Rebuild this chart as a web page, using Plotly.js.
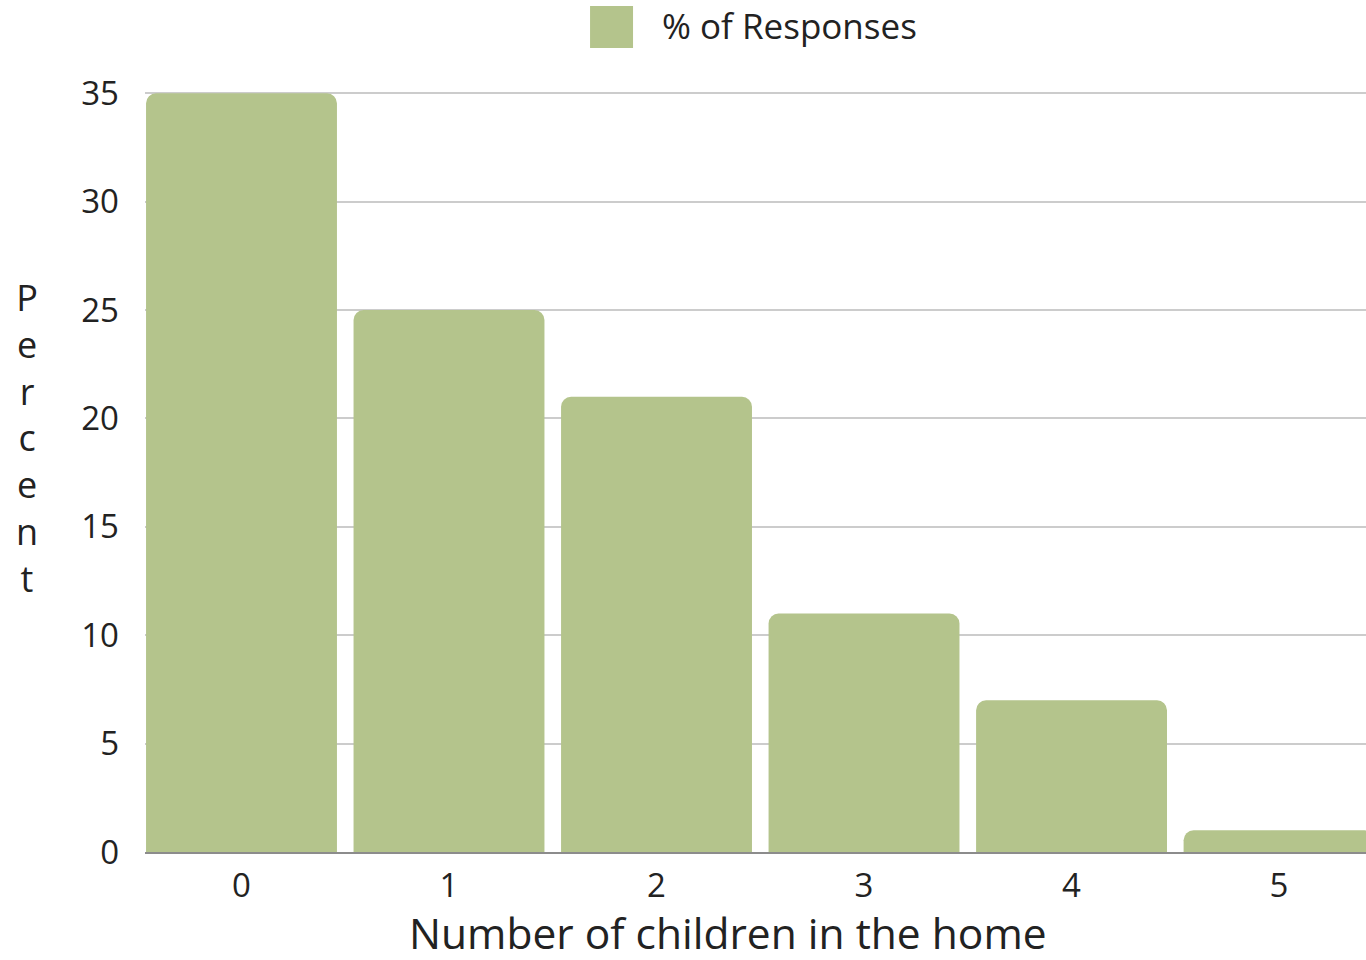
<!DOCTYPE html>
<html>
<head>
<meta charset="utf-8">
<script src="https://cdn.plot.ly/plotly-3.0.1.min.js"></script>
<style>html,body{margin:0;padding:0;background:#fff;}#chart{width:1366px;height:960px;}</style>
</head>
<body>
<div id="chart"></div>
<script>
const categories = ["0", "1", "2", "3", "4", "5"];
const percentValues = [35, 25, 21, 11, 7, 1];
const seriesName = "% of Responses";
const xTitle = "Number of children in the home";
const yTitle = "Percent";
const yTickValues = [0, 5, 10, 15, 20, 25, 30, 35];

const barColor = "#b4c48c";
const fontFamily = "'Open Sans', 'Noto Sans', sans-serif";

const trace = {
  type: "bar",
  x: categories.map(Number),
  y: percentValues,
  name: seriesName,
  marker: { color: barColor, cornerradius: 10 },
  hoverinfo: "x+y",
  showlegend: false
};

const layout = {
  width: 1366,
  height: 960,
  margin: { l: 145, r: 0, t: 92, b: 108 },
  paper_bgcolor: "#ffffff",
  plot_bgcolor: "#ffffff",
  font: { family: fontFamily, color: "#222222", size: 33 },
  bargap: 0.08,
  xaxis: {
    range: [-0.465, 5.419],
    tickvals: categories.map(Number),
    ticktext: categories,
    showgrid: false,
    zeroline: false,
    showline: true,
    linecolor: "#8c8c8c",
    linewidth: 2,
    ticks: "",
    ticklabelstandoff: 3,
    tickfont: { size: 33 }
  },
  yaxis: {
    range: [0, 35.06],
    tickvals: yTickValues,
    showgrid: true,
    gridcolor: "#cccccc",
    gridwidth: 2,
    zeroline: false,
    showline: false,
    ticks: "",
    ticklabelstandoff: 25,
    tickfont: { size: 33 }
  },
  shapes: [
    {
      type: "rect", xref: "paper", yref: "paper",
      x0: 0.3645, x1: 0.3997, y0: 1.058, y1: 1.113,
      fillcolor: barColor, line: { width: 0 }
    }
  ],
  annotations: [
    {
      text: seriesName, xref: "paper", yref: "paper",
      x: 0.4218, y: 1.087, xanchor: "left", yanchor: "middle",
      showarrow: false, font: { size: 35 }
    },
    {
      text: yTitle.split("").join("<br>"), xref: "paper", yref: "paper",
      x: -0.0966, y: 0.545, xanchor: "center", yanchor: "middle",
      showarrow: false, font: { size: 36 }, align: "center"
    },
    {
      text: xTitle, xref: "paper", yref: "paper",
      x: 0.4775, y: -0.1053, xanchor: "center", yanchor: "middle",
      showarrow: false, font: { size: 42.5 }
    }
  ]
};

Plotly.newPlot("chart", [trace], layout, { displayModeBar: false, responsive: false });
</script>
</body>
</html>
